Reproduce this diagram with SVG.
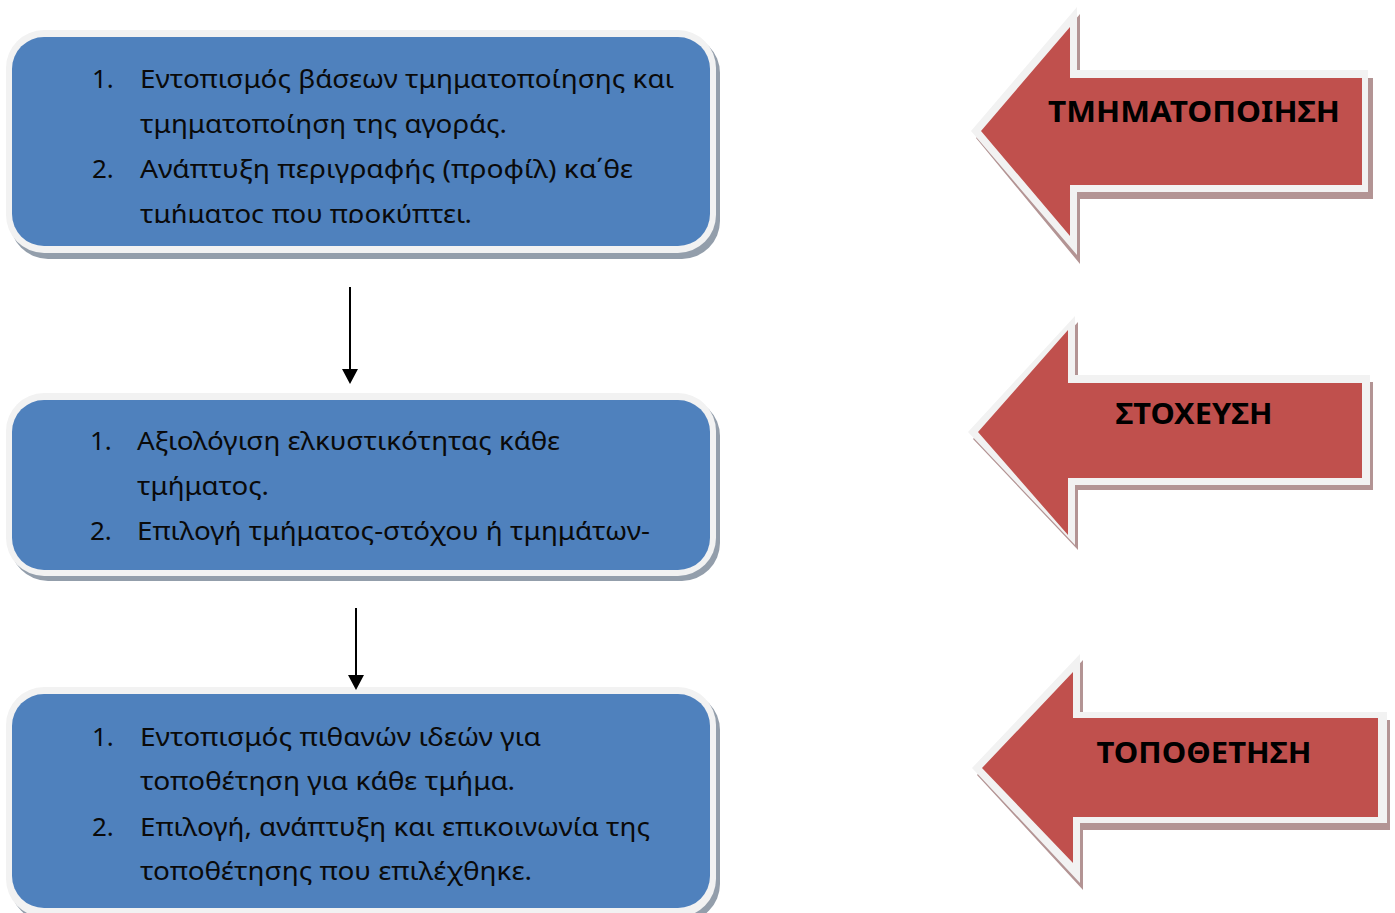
<svg xmlns="http://www.w3.org/2000/svg" width="1395" height="913" viewBox="0 0 1395 913">
<style>
.sh{fill:#939eab}
.bd{fill:#f2f2f2}
.bx{fill:#4f81bd}
.t{font-family:"Noto Sans","Open Sans",sans-serif;font-size:26px;fill:#0a0a0a}
.ash{fill:#b39494}
.ar{fill:#c0504d}
.lb{font-family:"Noto Sans","Open Sans",sans-serif;font-size:29px;font-weight:bold;fill:#000;text-anchor:middle}
.cn{stroke:#000;stroke-width:2;fill:none}
.hd{fill:#000}
</style>
<defs>
<clipPath id="c1"><rect x="0" y="30" width="720" height="193"/></clipPath>
</defs>

<g id="box1">
<rect class="sh" x="10" y="35" width="710" height="224" rx="38"/>
<rect class="bd" x="6" y="30" width="710" height="223" rx="38"/>
<rect class="bx" x="12" y="37" width="698" height="209" rx="32"/>
<g clip-path="url(#c1)">
<text class="t" x="92" y="88">1.</text>
<text class="t" x="140" y="88" textLength="534" lengthAdjust="spacingAndGlyphs">Εντοπισμός βάσεων τμηματοποίησης και</text>
<text class="t" x="140" y="133" textLength="367" lengthAdjust="spacingAndGlyphs">τμηματοποίηση της αγοράς.</text>
<text class="t" x="92" y="178">2.</text>
<text class="t" x="140" y="178" textLength="493" lengthAdjust="spacingAndGlyphs">Ανάπτυξη περιγραφής (προφίλ) κα΄θε</text>
<text class="t" x="140" y="223" textLength="332" lengthAdjust="spacingAndGlyphs">τμήματος που προκύπτει.</text>
</g>
</g>

<g id="box2">
<rect class="sh" x="10" y="398" width="710" height="183" rx="38"/>
<rect class="bd" x="6" y="393" width="710" height="183" rx="38"/>
<rect class="bx" x="12" y="400" width="698" height="170" rx="32"/>
<text class="t" x="90" y="450">1.</text>
<text class="t" x="137" y="450" textLength="423" lengthAdjust="spacingAndGlyphs">Αξιολόγιση ελκυστικότητας κάθε</text>
<text class="t" x="137" y="495" textLength="132" lengthAdjust="spacingAndGlyphs">τμήματος.</text>
<text class="t" x="90" y="540">2.</text>
<text class="t" x="137" y="540" textLength="513" lengthAdjust="spacingAndGlyphs">Επιλογή τμήματος-στόχου ή τμημάτων-</text>
</g>

<g id="box3">
<rect class="sh" x="10" y="692" width="710" height="230" rx="38"/>
<rect class="bd" x="6" y="687" width="710" height="230" rx="38"/>
<rect class="bx" x="12" y="694" width="698" height="214" rx="32"/>
<text class="t" x="92" y="746">1.</text>
<text class="t" x="140" y="746" textLength="401" lengthAdjust="spacingAndGlyphs">Εντοπισμός πιθανών ιδεών για</text>
<text class="t" x="140" y="790" textLength="375" lengthAdjust="spacingAndGlyphs">τοποθέτηση για κάθε τμήμα.</text>
<text class="t" x="92" y="836">2.</text>
<text class="t" x="140" y="836" textLength="510" lengthAdjust="spacingAndGlyphs">Επιλογή, ανάπτυξη και επικοινωνία της</text>
<text class="t" x="140" y="880" textLength="392" lengthAdjust="spacingAndGlyphs">τοποθέτησης που επιλέχθηκε.</text>
</g>

<g id="arrow1">
<path class="ash" d="M976,138 L1080,14 L1080,78 L1373,78 L1373,199 L1080,199 L1080,264 Z"/>
<path class="bd" d="M971,131 L1077,7 L1077,70 L1368,70 L1368,192 L1077,192 L1077,255 Z"/>
<path class="ar" d="M981,131 L1070,27 L1070,78 L1362,78 L1362,185 L1070,185 L1070,236 Z"/>
<text class="lb" x="1194" y="122" textLength="292" lengthAdjust="spacingAndGlyphs">ΤΜΗΜΑΤΟΠΟΙΗΣΗ</text>
</g>

<g id="arrow2">
<path class="ash" d="M973,439 L1078,322 L1078,382 L1373,382 L1373,490 L1078,490 L1078,550 Z"/>
<path class="bd" d="M968,432 L1075,316 L1075,375 L1370,375 L1370,485 L1075,485 L1075,545 Z"/>
<path class="ar" d="M978,432 L1068,330 L1068,383 L1362,383 L1362,478 L1068,478 L1068,535 Z"/>
<text class="lb" x="1194" y="424" textLength="157" lengthAdjust="spacingAndGlyphs">ΣΤΟΧΕΥΣΗ</text>
</g>

<g id="arrow3">
<path class="ash" d="M977,775 L1083,660 L1083,720 L1390,720 L1390,830 L1083,830 L1083,890 Z"/>
<path class="bd" d="M972,768 L1080,654 L1080,712 L1387,712 L1387,823 L1080,823 L1080,883 Z"/>
<path class="ar" d="M982,768 L1073,672 L1073,718 L1378,718 L1378,817 L1073,817 L1073,863 Z"/>
<text class="lb" x="1204" y="763" textLength="215" lengthAdjust="spacingAndGlyphs">ΤΟΠΟΘΕΤΗΣΗ</text>
</g>

<g id="connectors">
<line class="cn" x1="350" y1="287" x2="350" y2="371"/>
<path class="hd" d="M342,369 L358,369 L350,384 Z"/>
<line class="cn" x1="356" y1="608" x2="356" y2="677"/>
<path class="hd" d="M348,675 L364,675 L356,690 Z"/>
</g>
</svg>
